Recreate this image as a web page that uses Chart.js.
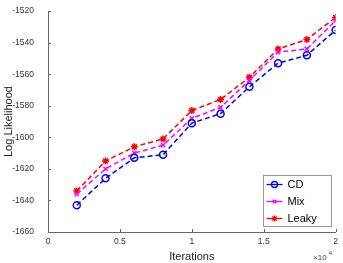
<!DOCTYPE html>
<html>
<head>
<meta charset="utf-8">
<script src="https://cdn.jsdelivr.net/npm/chart.js@4"></script>
<style>
  html, body { margin: 0; padding: 0; background: #fff; }
  canvas { display: block; }
</style>
</head>
<body>
<canvas id="graph" width="343" height="263"></canvas>
<script>
// data
var iterations = [2000, 4000, 6000, 8000, 10000, 12000, 14000, 16000, 18000, 20000];
var cdValues    = [-1643, -1626, -1613, -1611, -1591, -1585, -1568, -1553, -1548, -1532];
var mixValues   = [-1636, -1620, -1610, -1605, -1588, -1581, -1564, -1546, -1544, -1526];
var leakyValues = [-1634, -1615, -1606, -1601, -1583, -1576, -1562, -1544, -1538, -1524];
var yTicks = [-1660, -1640, -1620, -1600, -1580, -1560, -1540, -1520];
var xTicks = [0, 5000, 10000, 15000, 20000];

function pts(vals) {
    return iterations.map(function (x, i) { return { x: x, y: vals[i] }; });
}

var font = "Liberation Sans, Arial, sans-serif";

// matlab style inward ticks, legend box and the x10^4 multiplier
var decor = {
    id: "decor",
    afterDraw: function (chart) {
        var c = chart.ctx, xs = chart.scales.x, ys = chart.scales.y, a = chart.chartArea;
        c.save();
        c.strokeStyle = "#666";
        c.lineWidth = 1;
        c.beginPath();
        xTicks.forEach(function (v) {
            var px = Math.round(xs.getPixelForValue(v)) + 0.5;
            c.moveTo(px, a.bottom); c.lineTo(px, a.bottom - 3);
        });
        yTicks.forEach(function (v) {
            var py = Math.round(ys.getPixelForValue(v)) + 0.5;
            c.moveTo(a.left, py); c.lineTo(a.left + 3, py);
        });
        c.stroke();

        // x 10^4
        c.fillStyle = "#444";
        c.font = "8px " + font;
        c.textAlign = "right";
        c.textBaseline = "middle";
        c.fillText("\u00d710", a.right - 9, a.bottom + 26);
        c.font = "6px " + font;
        c.textAlign = "left";
        c.fillText("4", a.right - 7, a.bottom + 21);

        // legend
        var bx = 263.5, by = 175.5, bw = 68, bh = 51;
        c.fillStyle = "#fff";
        c.fillRect(bx, by, bw, bh);
        c.strokeStyle = "#999";
        c.strokeRect(bx, by, bw, bh);
        chart.data.datasets.forEach(function (ds, i) {
            var yy = by + 9 + i * 17;
            c.strokeStyle = ds.borderColor;
            c.lineWidth = 1.3;
            c.setLineDash([]);
            c.beginPath();
            c.moveTo(bx + 3, yy); c.lineTo(bx + 19, yy);
            c.stroke();
            c.fillStyle = ds.pointBackgroundColor;
            Chart.helpers.drawPoint(c, {
                pointStyle: ds.pointStyle, radius: ds.pointRadius - 0.5,
                borderWidth: ds.pointBorderWidth
            }, bx + 11, yy);
            c.fillStyle = "#000";
            c.font = "11px " + font;
            c.textAlign = "left";
            c.textBaseline = "middle";
            c.fillText(ds.label, bx + 24, yy + 0.5);
        });
        c.restore();
    }
};

function series(label, vals, color, style, radius) {
    return {
        label: label,
        data: pts(vals),
        borderColor: color,
        backgroundColor: color,
        borderWidth: 1.5,
        borderDash: [5, 3],
        pointStyle: style,
        pointRadius: radius,
        pointBorderWidth: 1.5,
        pointBackgroundColor: style === "circle" ? "rgba(0,0,0,0)" : color,
        pointBorderColor: color,
        tension: 0
    };
}

var graph = document.getElementById("graph").getContext("2d");

var myChart = new Chart(graph, {
    type: "line",
    data: {
        datasets: [
            series("CD", cdValues, "#0000ff", "circle", 3.5),
            series("Mix", mixValues, "#ff00ff", "crossRot", 3),
            series("Leaky", leakyValues, "#ff0000", "star", 3.5)
        ]
    },
    options: {
        responsive: false,
        animation: false,
        devicePixelRatio: 1,
        layout: { padding: { top: 5, right: 5, left: 0, bottom: 0 } },
        plugins: {
            legend: { display: false },
            tooltip: { enabled: false }
        },
        scales: {
            x: {
                type: "linear",
                min: 0,
                max: 20000,
                afterBuildTicks: function (s) { s.ticks = xTicks.map(function (v) { return { value: v }; }); },
                afterFit: function (s) { s.height = 31; },
                grid: { display: false, drawTicks: false, tickLength: 0 },
                border: { display: true, color: "#666", width: 1 },
                ticks: {
                    color: "#333",
                    font: { family: font, size: 8.5 },
                    padding: 5,
                    maxRotation: 0,
                    callback: function (v) { return String(v / 10000); }
                },
                title: {
                    display: true,
                    text: "Iterations",
                    color: "#222",
                    font: { family: font, size: 11 },
                    padding: { top: 0, bottom: -1 }
                }
            },
            y: {
                min: -1660,
                max: -1520,
                afterBuildTicks: function (s) { s.ticks = yTicks.map(function (v) { return { value: v }; }); },
                afterFit: function (s) { s.width = 48; },
                grid: { display: false },
                border: { display: true, color: "#666", width: 1 },
                ticks: {
                    color: "#333",
                    font: { family: font, size: 8.5 },
                    padding: 6,
                    callback: function (v) { return String(v); }
                },
                title: {
                    display: true,
                    text: "Log Likelihood",
                    color: "#222",
                    font: { family: font, size: 11 },
                    padding: { top: 2, bottom: 0 }
                }
            }
        }
    },
    plugins: [decor]
});
</script>
</body>
</html>
